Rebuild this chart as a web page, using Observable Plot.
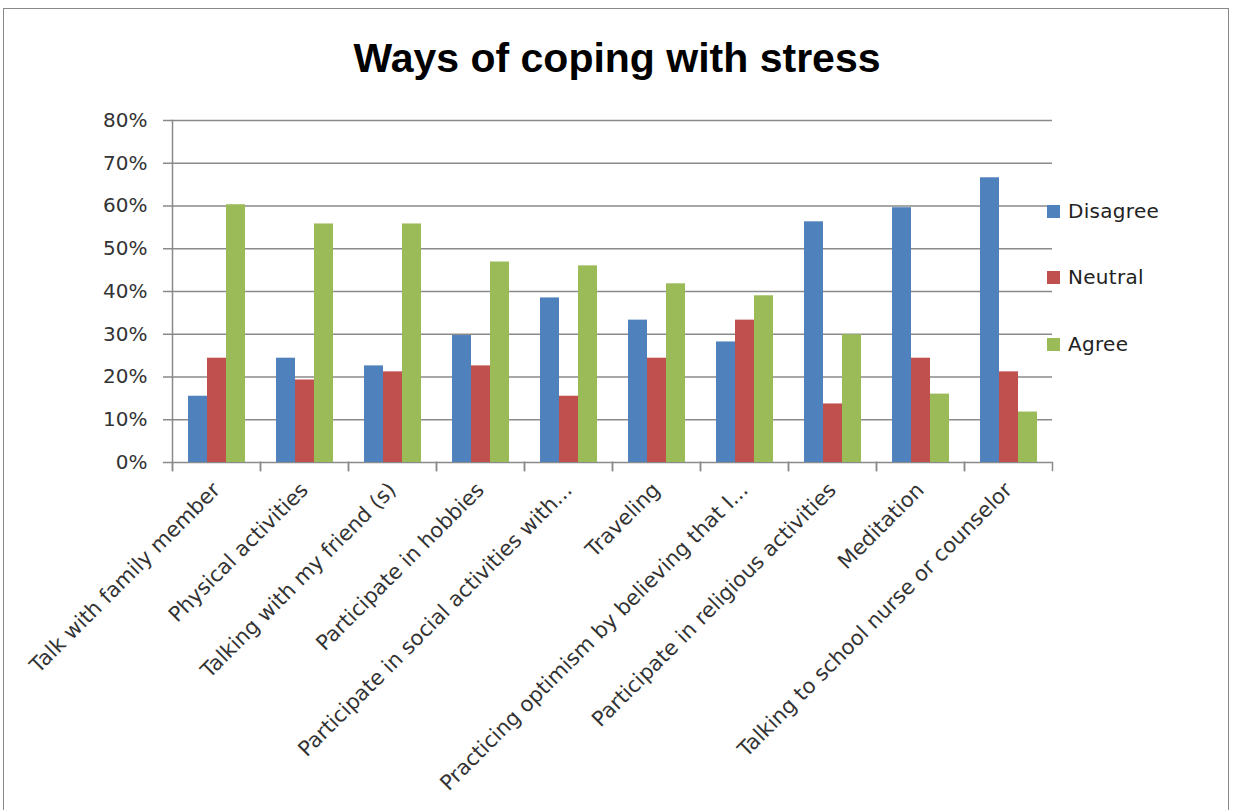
<!DOCTYPE html>
<html>
<head>
<meta charset="utf-8">
<script src="https://cdn.jsdelivr.net/npm/d3@7"></script>
<script src="https://cdn.jsdelivr.net/npm/@observablehq/plot@0.6"></script>
<style>
  html, body { margin: 0; padding: 0; background: #fff; }
  #wrap { position: relative; width: 1234px; height: 810px; overflow: hidden; font-family: "DejaVu Sans", sans-serif; }
  #border { position: absolute; left: 3px; top: 8px; width: 1226px; height: 830px; border: 1.5px solid #8a8a8a; box-sizing: border-box; }
  #title { position: absolute; left: 0; width: 1234px; top: 34px; text-align: center; font-family: "Liberation Sans", Arial, sans-serif; font-weight: bold; font-size: 41px; color: #000; line-height: 48px; }
  #chart { position: absolute; left: 0; top: 100px; }
  #legend { position: absolute; left: 1047px; top: 0; }
  .item { position: absolute; left: 0; white-space: nowrap; font-size: 20px; color: #222; letter-spacing: 0.3px; line-height: 24px; }
  .sw { display: inline-block; width: 13px; height: 13px; margin-right: 8px; vertical-align: 0px; }
</style>
</head>
<body>
<div id="wrap">
  <div id="border"></div>
  <div id="title"></div>
  <div id="chart"></div>
  <div id="legend"></div>
</div>
<script>
const title = "Ways of coping with stress";
const categories = [
  "Talk with family member",
  "Physical activities",
  "Talking with my friend (s)",
  "Participate in hobbies",
  "Participate in social activities with...",
  "Traveling",
  "Practicing optimism by believing that I...",
  "Participate in religious activities",
  "Meditation",
  "Talking to school nurse or counselor"
];
const series = ["Disagree", "Neutral", "Agree"];
const colors = ["#4F81BD", "#C0504D", "#9BBB59"];
const disagree = [0.155, 0.244, 0.226, 0.297, 0.385, 0.333, 0.282, 0.563, 0.596, 0.666];
const neutral  = [0.244, 0.193, 0.212, 0.226, 0.155, 0.244, 0.333, 0.137, 0.244, 0.212];
const agree    = [0.603, 0.558, 0.558, 0.469, 0.460, 0.418, 0.390, 0.299, 0.160, 0.118];
const yTicks = [0, 0.1, 0.2, 0.3, 0.4, 0.5, 0.6, 0.7, 0.8];

const valuesBySeries = {Disagree: disagree, Neutral: neutral, Agree: agree};
const rows = [];
categories.forEach((c, i) => series.forEach(s => rows.push({category: c, series: s, value: valuesBySeries[s][i]})));

document.getElementById("title").textContent = title;

const chart = Plot.plot({
  width: 1234,
  height: 710,
  marginLeft: 171,
  marginRight: 182,
  marginTop: 20,
  marginBottom: 348,
  style: {fontFamily: "DejaVu Sans", fontSize: "20px", background: "transparent", overflow: "visible"},
  fx: {domain: categories, padding: 0, label: null},
  x: {domain: series, paddingInner: 0, paddingOuter: 0.78, axis: null},
  y: {domain: [0, 0.8], label: null},
  color: {domain: series, range: colors},
  marks: [
    Plot.gridY(yTicks, {stroke: "#8a8a8a", strokeOpacity: 1, strokeWidth: 1.5}),
    Plot.barY(rows, {fx: "category", x: "series", y: "value", fill: "series"}),
    Plot.axisY(yTicks, {tickSize: 9, tickPadding: 16, tickFormat: d3.format(".0%"), stroke: "#8a8a8a", strokeWidth: 1.5, fill: "#333", fontSize: 20, label: null}),
    Plot.frame({anchor: "left", facetAnchor: "left", insetBottom: -8, stroke: "#8a8a8a", strokeWidth: 1.5}),
    Plot.frame({anchor: "left", insetTop: 342, insetBottom: -8, stroke: "#8a8a8a", strokeWidth: 1.5}),
    Plot.frame({anchor: "right", insetTop: 342, insetBottom: -8, stroke: "#8a8a8a", strokeWidth: 1.5}),
    Plot.axisFx({anchor: "bottom", tickSize: 0, tickPadding: 24, tickRotate: -45, fill: "#333", fontSize: 21, label: null})
  ]
});
document.getElementById("chart").appendChild(chart);

const legend = document.getElementById("legend");
const legendTops = [199, 265, 332];
series.forEach((s, i) => {
  const d = document.createElement("div");
  d.className = "item";
  d.style.top = legendTops[i] + "px";
  const sw = document.createElement("span");
  sw.className = "sw";
  sw.style.background = colors[i];
  d.appendChild(sw);
  d.appendChild(document.createTextNode(s));
  legend.appendChild(d);
});
</script>
</body>
</html>
